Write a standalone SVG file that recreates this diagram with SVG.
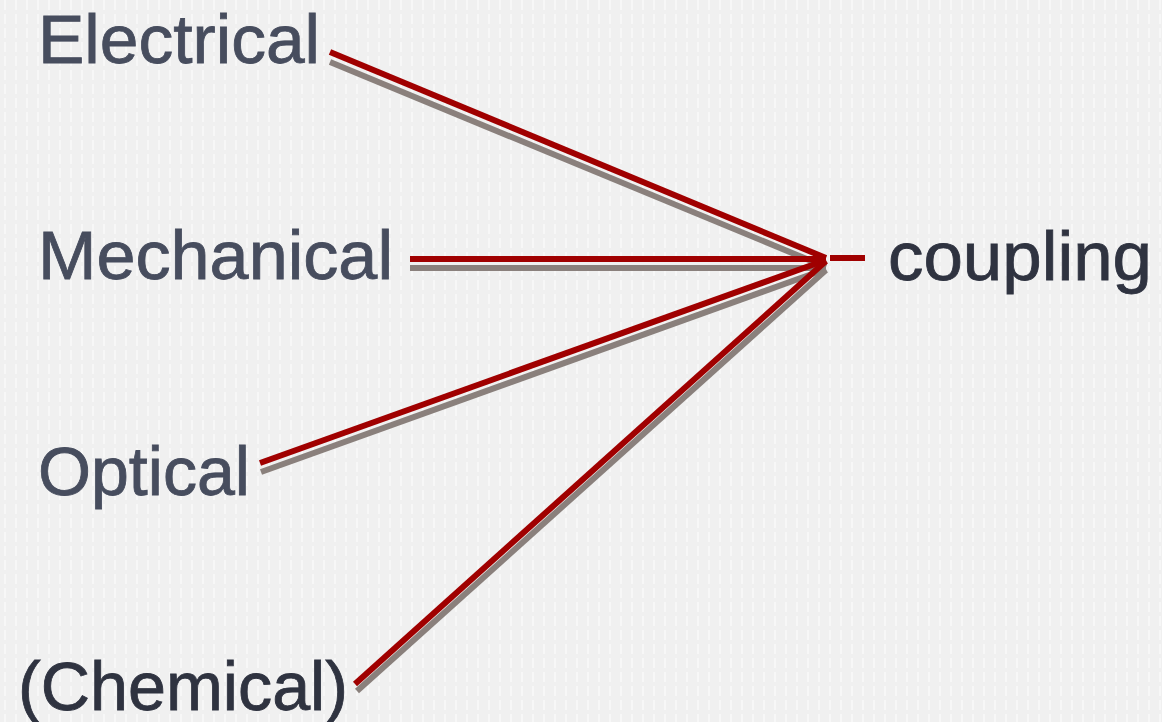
<svg xmlns="http://www.w3.org/2000/svg" width="1162" height="722" viewBox="0 0 1162 722">
<defs>
<pattern id="bg" width="11" height="14" patternUnits="userSpaceOnUse">
<rect width="11" height="14" fill="#f0f0f0"/>
<rect x="4" y="0" width="2" height="10" fill="#f7f7f7"/>
</pattern>
<style>
.lbl{font-family:"Liberation Sans",Arial,sans-serif;font-size:68px;fill:#474d5e;stroke:#474d5e;stroke-width:0.8}
.dark{fill:#2f3340;stroke:#2f3340}
.red{stroke:#a00000;stroke-width:6;fill:none}
.sh{stroke:#8a807c;stroke-width:6;fill:none}
</style>
</defs>
<rect width="1162" height="722" fill="url(#bg)"/>
<g id="connectors">
<line class="sh" x1="330" y1="62" x2="826" y2="267"/>
<line class="sh" x1="410" y1="268" x2="826" y2="268"/>
<line class="sh" x1="261" y1="472" x2="826" y2="269"/>
<line class="sh" x1="357" y1="691" x2="826" y2="270"/>
<line class="red" x1="330" y1="52" x2="826" y2="258"/>
<line class="red" x1="410" y1="259" x2="826" y2="259"/>
<line class="red" x1="260" y1="463" x2="826" y2="260"/>
<line class="red" x1="355" y1="684" x2="826" y2="261"/>
<line class="red" x1="830" y1="258" x2="865" y2="258" stroke="#b01000"/>
</g>
<g id="electrical"><text class="lbl" x="38" y="63" textLength="282" lengthAdjust="spacingAndGlyphs">Electrical</text></g>
<g id="mechanical"><text class="lbl" x="38" y="279" textLength="355" lengthAdjust="spacingAndGlyphs">Mechanical</text></g>
<g id="optical"><text class="lbl" x="38" y="495" textLength="212" lengthAdjust="spacingAndGlyphs">Optical</text></g>
<g id="chemical"><text class="lbl dark" x="18" y="710" textLength="330" lengthAdjust="spacingAndGlyphs">(Chemical)</text></g>
<g id="coupling"><text class="lbl dark" x="888" y="280" textLength="264" lengthAdjust="spacingAndGlyphs">coupling</text></g>
</svg>
